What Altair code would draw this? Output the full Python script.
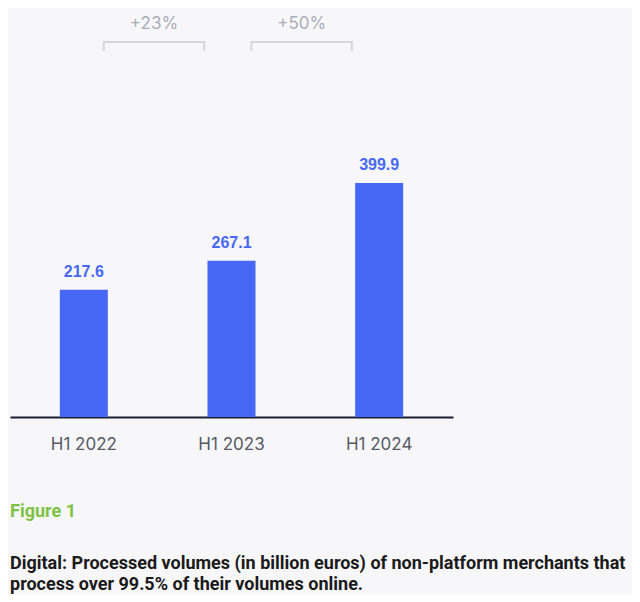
import altair as alt
import pandas as pd

categories = ["H1 2022", "H1 2023", "H1 2024"]
values = [217.6, 267.1, 399.9]
growth_from = ["H1 2022", "H1 2023"]
growth_to = ["H1 2023", "H1 2024"]
growth_labels = ["+23%", "+50%"]
figure_label = "Figure 1"
caption_lines = [
    "Digital: Processed volumes (in billion euros) of non-platform merchants that",
    "process over 99.5% of their volumes online.",
]

bars_df = pd.DataFrame({"cat": categories, "value": values})
growth_df = pd.DataFrame({"a": growth_from, "b": growth_to, "label": growth_labels})

BLUE = "#4768f5"
GRAY_BR = "#d6d7db"
FONT = "Inter"

xscale = alt.Scale(domain=categories, paddingInner=0, paddingOuter=0)
yscale = alt.Scale(domain=[0, 699])

base = alt.Chart(bars_df)

bars = base.mark_bar(width=48, color=BLUE).encode(
    x=alt.X("cat:N", scale=xscale, sort=categories,
            axis=alt.Axis(title=None, labelAngle=0, ticks=False, domainColor="#1b2033",
                          domainWidth=2, labelColor="#555a64", labelFontSize=17,
                          labelFont=FONT, labelPadding=27, grid=False,
                          bandPosition=0.5, labelAlign="center")),
    y=alt.Y("value:Q", scale=yscale, axis=None),
)

labels = base.mark_text(color=BLUE, fontWeight="bold", fontSize=16, dy=-18,
                        baseline="middle", font="Liberation Sans").encode(
    x=alt.X("cat:N", scale=xscale, sort=categories),
    y=alt.Y("value:Q", scale=yscale, axis=None),
    text=alt.Text("value:Q", format=".1f"),
)

gbase = alt.Chart(growth_df)
hline = gbase.mark_rule(color=GRAY_BR, strokeWidth=2).encode(
    x=alt.X("a:N", scale=xscale, sort=categories, bandPosition=0.635),
    x2=alt.X2("b:N", bandPosition=0.315),
    y=alt.value(34),
)
lend = gbase.mark_rule(color=GRAY_BR, strokeWidth=2).encode(
    x=alt.X("a:N", scale=xscale, sort=categories, bandPosition=0.635),
    y=alt.value(33), y2=alt.value(43),
)
rend = gbase.mark_rule(color=GRAY_BR, strokeWidth=2).encode(
    x=alt.X("b:N", scale=xscale, sort=categories, bandPosition=0.315),
    y=alt.value(33), y2=alt.value(43),
)
gtext = gbase.mark_text(color="#a9adb8", fontSize=17, font=FONT, baseline="middle").encode(
    x=alt.X("a:N", scale=xscale, sort=categories, bandPosition=0.975),
    y=alt.value(16),
    text="label:N",
)

fig = alt.Chart(pd.DataFrame({"t": [figure_label]})).mark_text(
    color="#7dc242", fontSize=18, fontWeight="bold", font="Roboto",
    align="left", baseline="middle").encode(
    x=alt.value(0), y=alt.value(504), text="t:N")

cap1 = alt.Chart(pd.DataFrame({"t": [caption_lines[0]]})).mark_text(
    color="#1a1a1a", fontSize=18, fontWeight="bold", font="Roboto",
    align="left", baseline="middle").encode(
    x=alt.value(0), y=alt.value(556), text="t:N")
cap2 = alt.Chart(pd.DataFrame({"t": [caption_lines[1]]})).mark_text(
    color="#1a1a1a", fontSize=18, fontWeight="bold", font="Roboto",
    align="left", baseline="middle").encode(
    x=alt.value(0), y=alt.value(577), text="t:N")

chart = alt.layer(hline, lend, rend, gtext, bars, labels, fig, cap1, cap2).properties(
    width=443, height=409,
    autosize=alt.AutoSizeParams(type="none"),
    padding={"left": 2, "top": 0, "right": 179, "bottom": 177},
    background="#f7f7f9",
).configure_view(stroke=None)

chart.save("out.html", embed_options={"renderer": "svg", "actions": False})
